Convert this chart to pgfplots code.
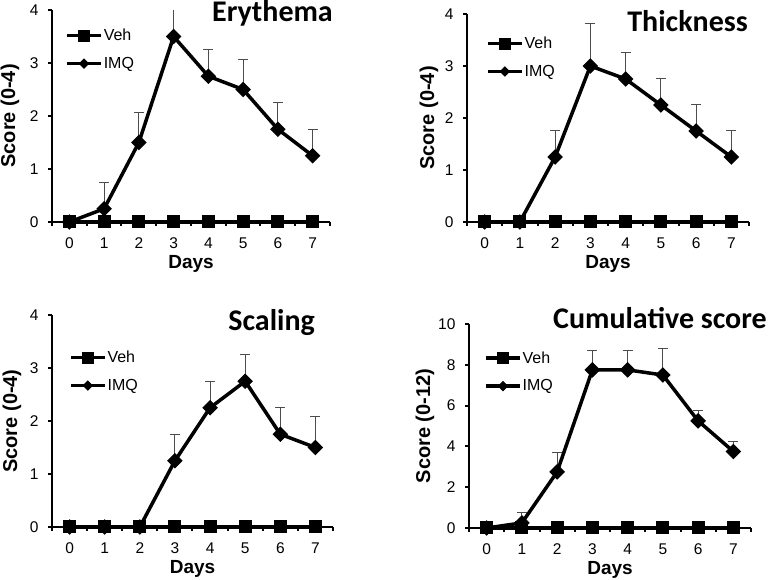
\documentclass[border=0pt]{standalone}
\usepackage{pgfplots}
\pgfplotsset{compat=1.18}
\usepackage{pgfplotstable}
\usepackage{fontspec}
\setmainfont{Liberation Sans}
\newfontfamily\calibri{Carlito}

\pgfplotstableread{
x y e
0 0 0
1 0.25 0.5
2 1.5 0.57
3 3.5 0
4 2.75 0.5
5 2.5 0.57
6 1.75 0.5
7 1.25 0.5
}\erythema
\pgfplotstableread{
x y e
0 0 0
1 0 0
2 1.25 0.5
3 3.0 0.82
4 2.75 0.5
5 2.25 0.5
6 1.75 0.5
7 1.25 0.5
}\thickness
\pgfplotstableread{
x y e
0 0 0
1 0 0
2 0 0
3 1.25 0.5
4 2.25 0.5
5 2.75 0.5
6 1.75 0.5
7 1.5 0.58
}\scaling
\pgfplotstableread{
x y e
0 0 0
1 0.25 0.5
2 2.75 0.95
3 7.75 0.95
4 7.75 0.95
5 7.5 1.3
6 5.25 0.5
7 3.75 0.5
}\cumulative
\pgfplotstableread{
x y
0 0
1 0
2 0
3 0
4 0
5 0
6 0
7 0
}\veh

\pgfplotsset{
  panel/.style={
    scale only axis, clip=false,
    axis x line=bottom, axis y line=left,
    axis line style={line width=2pt,-},
    xmin=-0.5, xmax=7.5, ymin=0,
    xtick={0,...,7}, minor xtick={-0.5,0.5,...,7.5},
    tick align=outside, major tick length=4pt, minor tick length=4pt,
    tick style={line width=2pt, black},
    major x tick style={draw=none},
    tick label style={font=\fontsize{15.5}{16}\selectfont},
    /pgf/number format/assume math mode=true,
    xticklabel style={anchor=base, yshift=-23pt},
    yticklabel style={anchor=east, xshift=-6pt},
    xlabel={Days},
    every axis x label/.style={at={(axis description cs:0.5,0)}, anchor=base, yshift=-47pt,
      font=\bfseries\fontsize{19}{20}\selectfont},
    legend style={draw=none, fill=none, font=\fontsize{16}{18}\selectfont,
      anchor=north west, inner sep=0pt, row sep=11pt, cells={anchor=west},
      nodes={inner xsep=1pt}},
    legend image code/.code={\draw[mark repeat=2,mark phase=2,#1] plot coordinates {(0pt,0pt) (17pt,0pt) (34pt,0pt)};},
  },
  ylab/.style={every axis y label/.style={at={(axis description cs:0,0.5)}, xshift=-#1, rotate=90, anchor=center,
      font=\bfseries\fontsize{20}{21}\selectfont}},
  vehstyle/.style={black, line width=3.5pt, mark=square*, mark size=6pt, mark options={solid, line width=1pt},
    legend image post style={mark size=5.5pt}},
  imqstyle/.style={black, line width=3.5pt, mark=square*, mark size=5pt, mark options={solid, rotate=45, line width=1pt},
    legend image post style={mark size=3.2pt},
    error bars/.cd, y dir=plus, y explicit,
    error bar style={line width=1pt, black!70},
    error mark options={rotate=90, mark size=5pt, line width=1pt, black!70}},
}

\begin{document}
\begin{tikzpicture}
\path[use as bounding box] (0,0) rectangle (768pt,580pt);

% Erythema
\begin{axis}[panel, at={(52pt,358pt)}, anchor=south west, width=278pt, height=212pt,
  ymax=4, ytick={0,1,2,3,4}, ylabel={Score (0-4)}, ylab=42pt,
  legend style={at={(axis description cs:0.047,0.92)}}]
\addplot[forget plot, only marks, mark=none, error bars/.cd, y dir=plus, y explicit, error mark=none, error bar style={line width=1pt, black!70}] coordinates {(3,3.5) +- (0,0.5)};
\addplot[vehstyle] table[x=x,y=y] {\veh};
\addplot[imqstyle] table[x=x,y=y,y error=e] {\erythema};
\legend{Veh,IMQ}
\end{axis}

% Thickness
\begin{axis}[panel, at={(467pt,358pt)}, anchor=south west, width=282pt, height=208pt,
  ymax=4, ytick={0,1,2,3,4}, ylabel={Score (0-4)}, ylab=38pt,
  legend style={at={(axis description cs:0.067,0.90)}}]
\addplot[vehstyle] table[x=x,y=y] {\veh};
\addplot[imqstyle] table[x=x,y=y,y error=e] {\thickness};
\legend{Veh,IMQ}
\end{axis}

% Scaling
\begin{axis}[panel, at={(52pt,53pt)}, anchor=south west, width=281pt, height=212pt,
  ymax=4, ytick={0,1,2,3,4}, ylabel={Score (0-4)}, ylab=40pt,
  legend style={at={(axis description cs:0.06,0.84)}}]
\addplot[vehstyle] table[x=x,y=y] {\veh};
\addplot[imqstyle] table[x=x,y=y,y error=e] {\scaling};
\legend{Veh,IMQ}
\end{axis}

% Cumulative
\begin{axis}[panel, at={(469pt,52pt)}, anchor=south west, width=282pt, height=204pt,
  ymax=10, ytick={0,2,4,6,8,10}, ylabel={Score (0-12)}, ylab=44pt,
  legend style={at={(axis description cs:0.053,0.875)}}]
\addplot[vehstyle] table[x=x,y=y] {\veh};
\addplot[imqstyle] table[x=x,y=y,y error=e] {\cumulative};
\legend{Veh,IMQ}
\end{axis}

\begin{scope}[every node/.style={font=\calibri\bfseries\fontsize{30}{31}\selectfont, inner sep=0pt}]
\node[anchor=base east] at (333pt,558pt) {Erythema};
\node[anchor=base east] at (748pt,548pt) {Thickness};
\node[anchor=base east] at (315pt,249pt) {Scaling};
\node[anchor=base east] at (767pt,251pt) {Cumulative score};
\end{scope}
\end{tikzpicture}
\end{document}
